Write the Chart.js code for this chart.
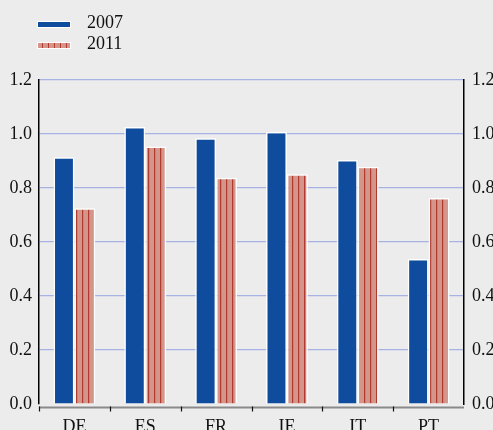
<!DOCTYPE html>
<html>
<head>
<meta charset="utf-8">
<script src="https://cdn.jsdelivr.net/npm/chart.js@4/dist/chart.umd.min.js"></script>
<style>
  html, body { margin:0; padding:0; background:#ececec; overflow:hidden; width:493px; height:430px; }
  #wrap { position:absolute; left:0; top:0; width:500px; height:430px; }
  .lg { position:absolute; font-family:"Liberation Serif","Times New Roman",serif; font-size:18px; color:#111; line-height:18px; }
  .sw { position:absolute; width:32px; height:5px; border:1px solid #fff; }
</style>
</head>
<body>
<div id="wrap"><canvas id="c" width="500" height="430"></canvas></div>
<div class="sw" style="left:37px;top:21px;background:#0f4c9e;"></div>
<div class="lg" style="left:87px;top:13px;">2007</div>
<div class="sw" style="left:37px;top:42px;background:repeating-linear-gradient(90deg,#d4968a 0px,#d4968a 4px,#b03a2e 4px,#b03a2e 5px,#d4968a 5px,#d4968a 6px);"></div>
<div class="lg" style="left:87px;top:34px;">2011</div>
<script>
const categories = ['DE', 'ES', 'FR', 'IE', 'IT', 'PT'];
const values2007 = [0.914, 1.026, 0.984, 1.007, 0.904, 0.537];
const values2011 = [0.725, 0.954, 0.838, 0.851, 0.879, 0.763];
const yTicks = [0.0, 0.2, 0.4, 0.6, 0.8, 1.0, 1.2];
const seriesNames = ['2007', '2011'];

const FONT = { family: '"Liberation Serif","Times New Roman",serif', size: 18 };

function stripePattern() {
  const c = document.createElement('canvas');
  c.width = 6; c.height = 10;
  const g = c.getContext('2d');
  g.fillStyle = '#d4968a'; g.fillRect(0, 0, 6, 10);
  g.fillStyle = '#b03a2e'; g.fillRect(4, 0, 1.2, 10);
  return g.createPattern(c, 'repeat');
}

const bottomAxisPlugin = {
  id: 'bottomAxis',
  afterDraw(chart) {
    const { ctx, chartArea } = chart;
    const xs = chart.scales.x;
    const y = chartArea.bottom + 3.5;
    ctx.save();
    ctx.strokeStyle = '#8a8a8a';
    ctx.lineWidth = 2;
    ctx.beginPath();
    ctx.moveTo(chartArea.left, y);
    ctx.lineTo(chartArea.right, y);
    ctx.stroke();
    ctx.strokeStyle = '#111';
    ctx.lineWidth = 1.2;
    const step = xs.getPixelForValue(1) - xs.getPixelForValue(0);
    for (let i = 0; i < categories.length; i++) {
      const xb = Math.round(xs.getPixelForValue(i) - step / 2) + 0.5;
      ctx.beginPath();
      ctx.moveTo(xb, y - 1);
      ctx.lineTo(xb, y + 4);
      ctx.stroke();
    }
    ctx.restore();
  }
};

new Chart(document.getElementById('c'), {
  type: 'bar',
  data: {
    labels: categories,
    datasets: [
      { label: seriesNames[0], data: values2007, backgroundColor: '#0f4c9e', borderColor: '#ffffff', borderWidth: 1.5, yAxisID: 'y' },
      { label: seriesNames[1], data: values2011, backgroundColor: stripePattern(), borderColor: '#ffffff', borderWidth: 1.5, yAxisID: 'y' }
    ]
  },
  options: {
    responsive: false,
    animation: false,
    devicePixelRatio: 1,
    layout: { padding: { top: 80, left: 0, right: 0, bottom: 0 } },
    datasets: { bar: { categoryPercentage: 0.59, barPercentage: 1.0 } },
    plugins: { legend: { display: false }, tooltip: { enabled: false } },
    scales: {
      x: {
        offset: true,
        grid: { display: false },
        border: { display: false },
        ticks: { font: FONT, color: '#111', padding: 4 },
        afterFit(s) { s.height = 26; }
      },
      y: {
        position: 'left',
        min: 0, max: 1.2,
        afterBuildTicks(s) { s.ticks = yTicks.map(v => ({ value: v })); },
        ticks: { font: FONT, color: '#111', padding: 7, callback: v => v.toFixed(1) },
        grid: { drawTicks: false, color: ctx => (ctx.tick && ctx.tick.value === 0) ? 'rgba(0,0,0,0)' : '#a6b3e2', lineWidth: 1.2 },
        border: { color: '#000', width: 1.5 },
        afterFit(s) { s.width = 39; }
      },
      y2: {
        position: 'right',
        min: 0, max: 1.2,
        afterBuildTicks(s) { s.ticks = yTicks.map(v => ({ value: v })); },
        ticks: { font: FONT, color: '#111', padding: 8, callback: v => v.toFixed(1) },
        grid: { display: false, drawTicks: false },
        border: { color: '#000', width: 1.5 },
        afterFit(s) { s.width = 36; }
      }
    }
  },
  plugins: [bottomAxisPlugin]
});
</script>
</body>
</html>
